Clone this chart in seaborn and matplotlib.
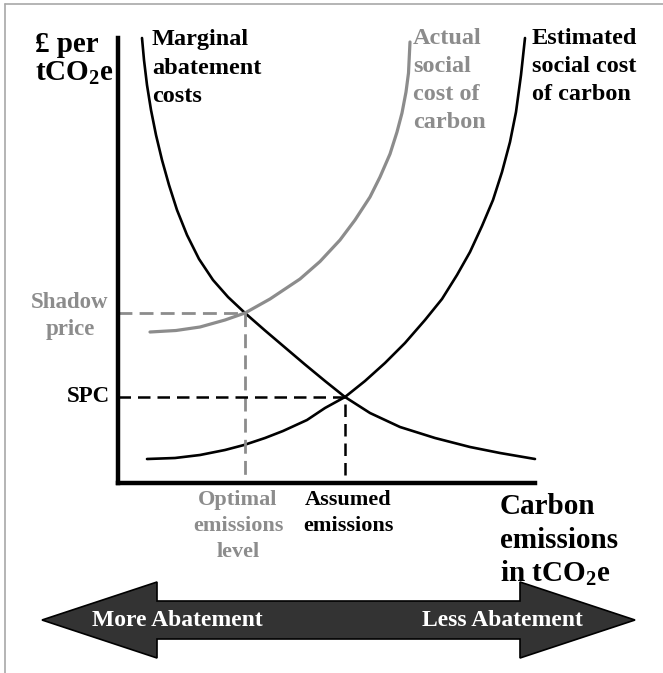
import matplotlib
matplotlib.use("Agg")
import matplotlib.pyplot as plt
import seaborn as sns
from matplotlib.patches import Polygon
from matplotlib.lines import Line2D

# curve values (emissions 0-417, price 0-445, arbitrary units)
mac_x = [24, 26, 29, 33, 38, 44, 51, 59, 69, 81, 95, 110, 127, 147, 167, 187, 207, 227, 252, 282, 317, 352, 382, 417]
mac_y = [445, 423, 398, 373, 348, 323, 298, 273, 248, 224, 203, 186, 170, 152.5, 135.5, 118.5, 102, 86, 70, 56, 45, 36, 30, 24]

actual_scc_x = [32, 58, 82, 107, 127, 152, 182, 202, 222, 237, 252, 262, 272, 279, 284, 288, 290.5, 292]
actual_scc_y = [151, 152.5, 156, 163, 170, 184, 204, 221.5, 243, 263, 286, 306, 329, 351, 370, 391, 410, 441]

est_scc_x = [29, 57, 82, 107, 126, 147, 165, 189, 207, 227, 247, 267, 287, 307, 324, 339, 352, 364, 375, 384, 392, 398, 403, 407]
est_scc_y = [24, 25, 28, 33, 38, 45, 52, 63, 75, 86, 102, 120, 140, 163, 184, 208, 231, 257, 283, 311, 341, 371, 408, 445]

# intersections
optimal_x, shadow_price = 127, 170
assumed_x, spc = 227, 86

GREY = "#8c8c8c"
W, H = 663, 673

sns.set_theme(style="white")
plt.rcParams["font.family"] = ["Liberation Serif", "DejaVu Serif"]
plt.rcParams["font.weight"] = "bold"
plt.rcParams["mathtext.fontset"] = "custom"
plt.rcParams["mathtext.rm"] = "Liberation Serif:bold"
plt.rcParams["mathtext.default"] = "rm"


def fx(px):
    return px / W


def fy(py):
    return 1 - py / H


fig = plt.figure(figsize=(W / 100, H / 100), dpi=100)
fig.patch.set_facecolor("white")
ax = fig.add_axes([fx(118), fy(483), (535 - 118) / W, (483 - 38) / H])
ax.set_facecolor("none")

# curves
line_kw = dict(ax=ax, sort=False, estimator=None, clip_on=False)
sns.lineplot(x=mac_x, y=mac_y, color="black", lw=1.9, **line_kw)
sns.lineplot(x=actual_scc_x, y=actual_scc_y, color=GREY, lw=2.3, **line_kw)
sns.lineplot(x=est_scc_x, y=est_scc_y, color="black", lw=1.9, **line_kw)
for l in ax.lines:
    l.set_solid_joinstyle("round")

# dashed guides
sns.lineplot(x=[0, optimal_x, optimal_x], y=[shadow_price, shadow_price, 0], ax=ax, color=GREY,
             lw=2.0, sort=False, estimator=None, linestyle=(0, (5.0, 2.6)))
sns.lineplot(x=[0, assumed_x, assumed_x], y=[spc, spc, 0], ax=ax, color="black",
             lw=1.8, sort=False, estimator=None, linestyle=(0, (5.0, 2.8)))

ax.set_xlim(0, 417)
ax.set_ylim(0, 445)
ax.set_xticks([])
ax.set_yticks([])
for side in ["top", "right"]:
    ax.spines[side].set_visible(False)
for side in ["left", "bottom"]:
    ax.spines[side].set_color("black")
    ax.spines[side].set_linewidth(3.2)

# frame (only top and left edges visible)
fig.add_artist(Line2D([fx(5), fx(5)], [0, fy(4)], transform=fig.transFigure, color="#a8a8a8", lw=1.2))
fig.add_artist(Line2D([fx(5), 1], [fy(4), fy(4)], transform=fig.transFigure, color="#a8a8a8", lw=1.2))


def lines(strings, x, ys, size, color="black", ha="left"):
    for s, y in zip(strings, ys):
        fig.text(fx(x), fy(y), s, ha=ha, va="center", fontsize=size, color=color, fontweight="bold")


lines(["£ per", "tCO$_2$e"], 35, [44, 73], 21)
lines(["Marginal", "abatement", "costs"], 152, [39, 68, 97], 17.5)
lines(["Actual", "social", "cost of", "carbon"], 413, [39, 67, 95, 123], 17.5, GREY)
lines(["Estimated", "social cost", "of carbon"], 532, [39, 67, 95], 17.5)
lines(["Shadow", "price"], 70, [303, 330], 16.5, GREY, ha="center")
lines(["SPC"], 110, [397], 16.5, ha="right")
lines(["Optimal", "emissions", "level"], 238, [500, 526, 552], 16, GREY, ha="center")
lines(["Assumed", "emissions"], 348, [500, 526], 16, ha="center")
lines(["Carbon", "emissions", "in tCO$_2$e"], 500, [507, 540, 573], 21)

# double headed arrow
left_tip, right_tip, mid = 42, 635, 620
head_len, head_half, body_half = 115, 38, 19
pts = [
    (left_tip, mid),
    (left_tip + head_len, mid - head_half),
    (left_tip + head_len, mid - body_half),
    (right_tip - head_len, mid - body_half),
    (right_tip - head_len, mid - head_half),
    (right_tip, mid),
    (right_tip - head_len, mid + head_half),
    (right_tip - head_len, mid + body_half),
    (left_tip + head_len, mid + body_half),
    (left_tip + head_len, mid + head_half),
]
fig.add_artist(Polygon([(fx(a), fy(b)) for a, b in pts], closed=True, transform=fig.transFigure,
                       facecolor="#333333", edgecolor="black", lw=1.2))
fig.text(fx(177), fy(620), "More Abatement", ha="center", va="center", fontsize=17, color="white", fontweight="bold")
fig.text(fx(502), fy(620), "Less Abatement", ha="center", va="center", fontsize=17, color="white", fontweight="bold")

fig.savefig("out.png", dpi=100)
